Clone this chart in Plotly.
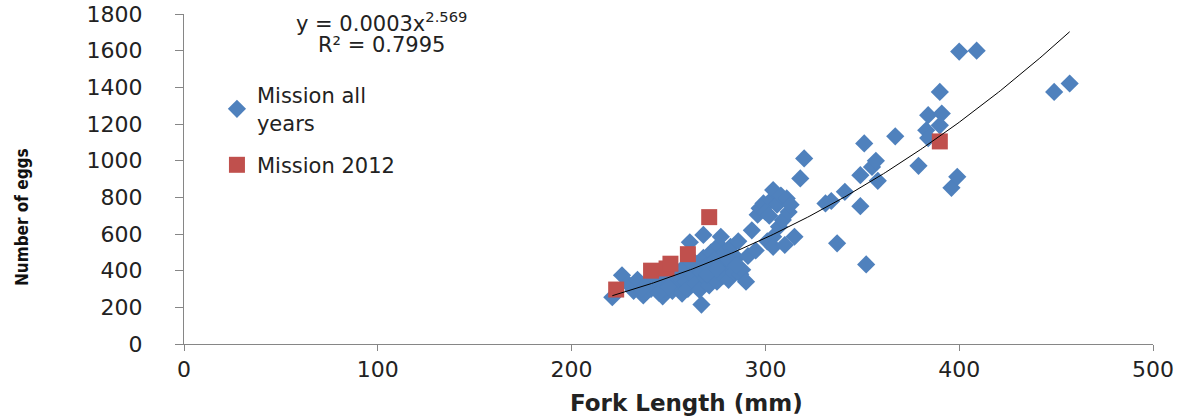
import numpy as np
import plotly.graph_objects as go

# Mission all years (fork length mm, number of eggs)
all_len = [221, 226, 229, 232, 234, 237, 239, 241, 243, 245, 247, 248, 249, 251, 252,
           254, 255, 256, 257, 258, 259, 260, 261, 262, 263, 264, 265, 266, 267, 268,
           268, 269, 270, 271, 272, 273, 274, 275, 276, 277, 277, 278, 279, 280, 281,
           282, 283, 284, 285, 286, 287, 288, 290, 291, 293, 295, 296, 297, 299, 300,
           301, 302, 303, 304, 304, 304, 306, 307, 308, 309, 310, 311, 312, 313, 315,
           318, 320, 331, 334, 337, 341, 349, 349, 351, 352, 355, 357, 358, 367, 379,
           383, 384, 384, 390, 390, 391, 396, 399, 400, 409, 449, 457,
           245, 250, 236, 262, 270, 275, 280, 285]
all_eggs = [255, 375, 330, 290, 350, 265, 320, 300, 360, 330, 260, 300, 380, 345, 290,
            400, 320, 360, 275, 420, 340, 300, 555, 380, 450, 330, 410, 295, 215, 595,
            470, 360, 430, 320, 500, 390, 460, 340, 540, 585, 420, 370, 500, 440, 350,
            530, 430, 390, 470, 560, 380, 405, 340, 480, 620, 510, 705, 740, 767, 720,
            560, 700, 785, 840, 585, 530, 760, 640, 810, 676, 540, 794, 720, 760, 585,
            903, 1012, 767, 780, 549, 830, 921, 752, 1094, 434, 966, 999, 890, 1133, 972,
            1166, 1123, 1248, 1375, 1193, 1257, 852, 912, 1595, 1600, 1375, 1421,
            280, 310, 300, 440, 380, 410, 470, 430]

# Mission 2012
m12_len = [223, 241, 249, 251, 260, 271, 390]
m12_eggs = [297, 400, 412, 438, 490, 692, 1105]

# Power trendline parameters (coefficient shown rounded as 0.0003)
trend_a = 0.00025
trend_b = 2.569
trend_x = np.linspace(min(all_len + m12_len), max(all_len + m12_len), 200)
trend_y = trend_a * trend_x ** trend_b

FONT = "DejaVu Sans, Verdana, sans-serif"
NARROW = "DejaVu Sans Condensed, Liberation Sans Narrow, Roboto Condensed, DejaVu Sans, sans-serif"

fig = go.Figure()
fig.add_trace(go.Scatter(
    x=all_len, y=all_eggs, mode="markers", name="Mission all<br>years", legendgroup="a",
    marker=dict(symbol="diamond", size=14, color="#4F81BD", line=dict(width=0)),
))
fig.add_trace(go.Scatter(
    x=m12_len, y=m12_eggs, mode="markers", name="Mission 2012", legendgroup="b",
    marker=dict(symbol="square", size=16, color="#C0504D", line=dict(width=0)),
))
fig.add_trace(go.Scatter(
    x=trend_x, y=trend_y, mode="lines", showlegend=False, hoverinfo="skip",
    line=dict(color="black", width=1),
))

tick_font = dict(family=FONT, size=22, color="#222222")

# plot area: x 184..1153 px, y 14..344 px (page body margin removed below)
fig.update_layout(
    width=1189, height=417,
    margin=dict(l=184, r=36, t=14, b=73, autoexpand=False),
    paper_bgcolor="white", plot_bgcolor="white",
    showlegend=True,
    legend=dict(
        x=0.034, y=0.815, xanchor="left", yanchor="top",
        font=dict(family=FONT, size=21, color="#222222"),
        bgcolor="rgba(0,0,0,0)", tracegroupgap=12, itemwidth=30,
    ),
    xaxis=dict(
        range=[0, 500], tickvals=[0, 100, 200, 300, 400, 500],
        showline=True, linecolor="#868686", linewidth=1,
        ticks="outside", ticklen=6, tickcolor="#868686",
        showgrid=False, zeroline=False, tickfont=tick_font, automargin=False,
        ticklabeloverflow="allow",
    ),
    yaxis=dict(
        range=[0, 1800], tickvals=list(range(0, 1801, 200)),
        showline=True, linecolor="#868686", linewidth=1,
        ticks="outside", ticklen=8, tickcolor="#868686",
        showgrid=False, zeroline=False, tickfont=tick_font, automargin=False,
        ticklabelstandoff=28, ticklabeloverflow="allow",
    ),
)

# axis titles
fig.add_annotation(
    xref="paper", yref="paper", x=(686 - 184) / 969, y=(344 - 403) / 330,
    xanchor="center", yanchor="middle", showarrow=False,
    text="<b>Fork Length (mm)</b>",
    font=dict(family=FONT, size=23, color="#222222"),
)
fig.add_annotation(
    xref="paper", yref="paper", x=(22 - 184) / 969, y=(344 - 217) / 330,
    xanchor="center", yanchor="middle", showarrow=False, textangle=-90,
    text="<b>Number of eggs</b>",
    font=dict(family=NARROW, size=17, color="#111111"),
)

# trendline equation
eq_x = (381 - 184) / 1.938
fig.add_annotation(
    xref="x", yref="paper", x=eq_x, y=(344 - 22) / 330, yanchor="middle",
    text="y = 0.0003x<sup>2.569</sup>", showarrow=False,
    font=dict(family=FONT, size=21, color="#222222"),
)
fig.add_annotation(
    xref="x", yref="paper", x=eq_x, y=(344 - 45) / 330, yanchor="middle",
    text="R² = 0.7995", showarrow=False,
    font=dict(family=FONT, size=21, color="#222222"),
)

fig.write_html("out.html", config={"displayModeBar": False},
               post_script="document.body.style.margin='0';")
